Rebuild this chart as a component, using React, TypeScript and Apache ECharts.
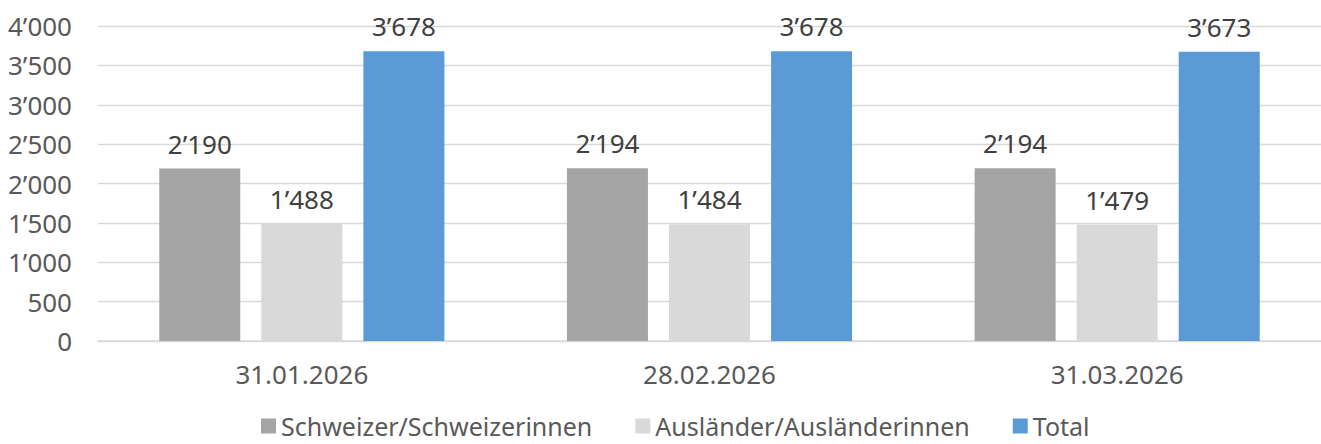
import React, { useEffect, useRef } from "react";
import * as echarts from "echarts";

const categories = ["31.01.2026", "28.02.2026", "31.03.2026"];
const seriesNames = ["Schweizer/Schweizerinnen", "Ausländer/Ausländerinnen", "Total"];
const schweizer = [2190, 2194, 2194];
const auslaender = [1488, 1484, 1479];
const total = [3678, 3678, 3673];
const colors = ["#a5a5a5", "#d9d9d9", "#5b9bd5"];

const FONT = "Noto Sans";

function fmt(v: number): string {
  const s = String(Math.round(v));
  return s.replace(/\B(?=(\d{3})+(?!\d))/g, "\u2019");
}

export default function App() {
  const ref = useRef<HTMLDivElement>(null);
  useEffect(() => {
    if (!ref.current) return;
    const chart = echarts.init(ref.current, undefined, { renderer: "svg" });
    const data = [schweizer, auslaender, total];
    chart.setOption({
      animation: false,
      textStyle: { fontFamily: FONT },
      grid: { left: 98, right: 0, top: 26, bottom: 103, containLabel: false },
      legend: {
        top: 413,
        left: 261,
        padding: 0,
        itemWidth: 15,
        itemHeight: 15,
        itemGap: 43,
        icon: "rect",
        textStyle: { fontFamily: FONT, fontSize: 25, lineHeight: 26, color: "#595959" },
        data: seriesNames,
      },
      xAxis: {
        type: "category",
        data: categories,
        axisTick: { show: false },
        axisLine: { lineStyle: { color: "#d9d9d9", width: 1.5 } },
        axisLabel: { fontFamily: FONT, fontSize: 26, color: "#595959", margin: 20 },
      },
      yAxis: {
        type: "value",
        min: 0,
        max: 4000,
        interval: 500,
        axisLabel: {
          fontFamily: FONT,
          fontSize: 26,
          color: "#595959",
          margin: 26,
          formatter: (v: number) => fmt(v),
        },
        splitLine: { lineStyle: { color: "#d9d9d9", width: 1.3 } },
      },
      series: seriesNames.map((name, i) => ({
        name,
        type: "bar",
        data: data[i],
        barWidth: 81,
        barGap: "26%",
        itemStyle: { color: colors[i] },
        label: {
          show: true,
          position: "top",
          distance: 12,
          fontFamily: FONT,
          fontSize: 26,
          color: "#404040",
          formatter: (p: any) => fmt(p.value),
        },
      })),
    });
    return () => chart.dispose();
  }, []);
  return <div ref={ref} style={{ width: 1321, height: 444, position: "absolute", left: 0, top: 0 }} />;
}
